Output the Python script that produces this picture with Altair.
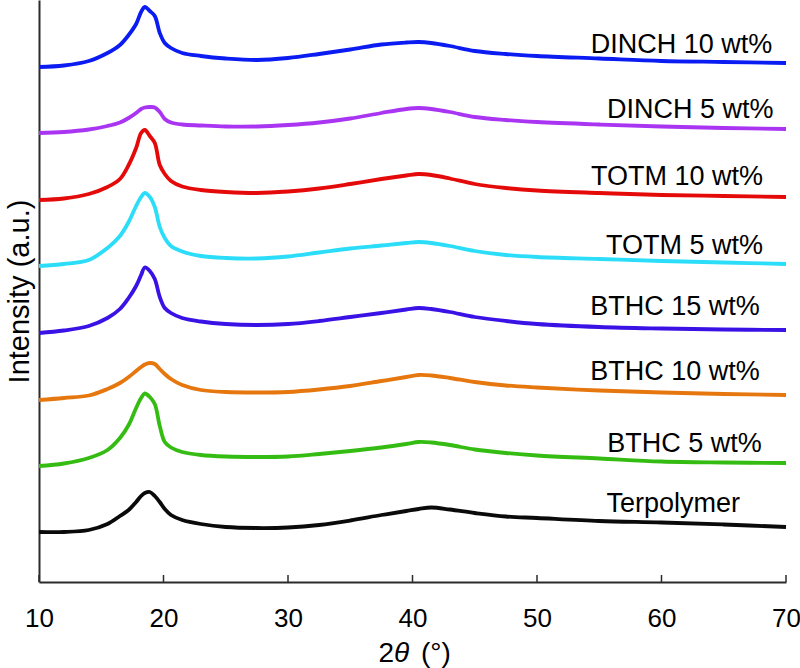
import altair as alt
import pandas as pd

# Diffraction angle grid (2θ, degrees)
two_theta = [10, 12, 14, 15.5, 16.5, 17.2, 17.8, 18.2, 18.5, 18.9, 19.3, 19.7, 20.1,
             20.6, 21.5, 23, 25, 27.5, 30, 32.5, 35, 37.5, 39.5, 40.5, 41.5, 43, 45,
             47.5, 50, 55, 60, 65, 70]

# Stacked intensity traces (a.u., vertically offset)
dinch_10 = [515, 516.5, 521, 529, 537, 547, 558, 570, 575, 571, 566, 549, 539, 534, 529,
            526, 523.5, 522, 524, 528, 532.5, 537.5, 539.5, 540, 539, 536, 531, 528, 526,
            523.5, 521, 520, 519]
dinch_5 = [449, 450, 452.5, 456, 459.5, 464, 469, 473, 474.5, 475, 474.5, 470, 463, 459.5,
           457.5, 456.5, 455.5, 455.5, 457, 459.5, 463.5, 469, 473, 474, 473, 470, 465, 462,
           460, 457.5, 455.5, 454, 453]
totm_10 = [382, 383.5, 388, 395, 403, 417, 434, 449, 452, 446, 439, 417, 408, 401, 395.5,
           392, 390, 389, 390.5, 393.5, 398, 403, 406.5, 408, 407, 403.5, 398, 394, 391.5,
           389, 387, 386, 385]
totm_5 = [316, 318, 322, 334, 346, 360, 376, 385, 389, 385, 375, 355, 344, 336, 330.5,
          326, 324, 323.5, 325.5, 329.5, 333.5, 336.5, 339, 340, 339, 336, 331, 327, 325,
          323, 321, 319.5, 318]
bthc_15 = [249, 251.5, 256, 264, 273, 284, 296, 307, 314.5, 311, 303, 285, 274, 269, 264,
           260.5, 258, 257, 258, 261, 265, 269, 272.5, 274, 273, 270, 265, 261, 258,
           255, 253.5, 252.5, 252]
bthc_10 = [182, 184, 186.5, 193, 199, 205, 211, 215, 217.5, 219, 218, 213, 208, 203, 197,
           192, 190, 189.5, 190, 192.5, 196, 201, 205, 207, 206.5, 204, 200, 196.5, 194.5,
           191.5, 189.5, 188, 187]
bthc_5 = [116, 118.5, 124, 132, 144, 157, 174, 184, 188.5, 185, 178, 156, 140, 134.5, 130,
          127, 125.5, 125, 125.5, 128, 131, 134.5, 138, 140, 139.5, 137, 132.5, 129, 126.5,
          123.5, 120.5, 119.5, 119]
terpolymer = [50, 50, 52, 58, 66, 72, 80, 86, 89, 90, 86, 80, 73, 67, 62, 58, 55, 54, 54.5,
              57, 61.5, 67, 71, 73, 74.5, 72.5, 69, 65.5, 64, 61, 59.5, 57.5, 55]

samples = ["DINCH 10 wt%", "DINCH 5 wt%", "TOTM 10 wt%", "TOTM 5 wt%",
           "BTHC 15 wt%", "BTHC 10 wt%", "BTHC 5 wt%", "Terpolymer"]
traces = [dinch_10, dinch_5, totm_10, totm_5, bthc_15, bthc_10, bthc_5, terpolymer]
colors = ["#0B1CF2", "#A935F2", "#E50A0A", "#2BDDF8",
          "#3B12E6", "#E6770F", "#35BC12", "#0A0A0A"]

# Label anchors (right end of each label, in data units)
label_x = [68.9, 69.0, 68.15, 68.15, 67.9, 67.9, 68.05, 66.3]
label_y = [529, 464, 397, 328.5, 267, 202, 130, 70]

x_ticks = [10, 20, 30, 40, 50, 60, 70]

FONT = "Liberation Sans"
AXIS_COLOR = "#2b2b2b"

rows = []
for name, ys in zip(samples, traces):
    for t, v in zip(two_theta, ys):
        rows.append({"sample": name, "two_theta": t, "intensity": v})
df = pd.DataFrame(rows)

labels_df = pd.DataFrame({"sample": samples, "lx": label_x, "ly": label_y})
ticks_df = pd.DataFrame({"tick": x_ticks})

x_scale = alt.Scale(domain=[10, 70], nice=False, zero=False)
y_scale = alt.Scale(domain=[0, 582], nice=False, zero=False)
color_scale = alt.Scale(domain=samples, range=colors)

lines = alt.Chart(df).mark_line(strokeWidth=3.8, interpolate="catmull-rom").encode(
    x=alt.X("two_theta:Q", scale=x_scale,
            axis=alt.Axis(values=x_ticks, ticks=False, grid=False, title=None,
                          labelFontSize=26, labelFont=FONT, labelColor="#000000",
                          labelPadding=23, labelFlush=False, format="d",
                          domainColor=AXIS_COLOR, domainWidth=2)),
    y=alt.Y("intensity:Q", scale=y_scale,
            axis=alt.Axis(ticks=False, labels=False, grid=False,
                          title="Intensity (a.u.)", titleFont=FONT, titleFontSize=29,
                          titleFontWeight="normal", titleColor="#000000",
                          titleAngle=270, titleX=-11, titleY=291,
                          titleBaseline="alphabetic", titleAlign="center",
                          domainColor=AXIS_COLOR, domainWidth=2)),
    color=alt.Color("sample:N", scale=color_scale, legend=None),
)

# Inward-pointing x ticks
tick_marks = alt.Chart(ticks_df).mark_rule(color=AXIS_COLOR, strokeWidth=1.5).encode(
    x=alt.X("tick:Q", scale=x_scale),
    y=alt.value(575),
    y2=alt.value(582),
)

labels = alt.Chart(labels_df).mark_text(
    align="right", baseline="alphabetic", fontSize=27, font=FONT, color="#000000"
).encode(
    x=alt.X("lx:Q", scale=x_scale),
    y=alt.Y("ly:Q", scale=y_scale),
    text="sample:N",
)

# x-axis title "2θ (°)" with an italic theta
one_row = alt.Data(values=[{"k": 1}])
title_two = alt.Chart(one_row).mark_text(
    text="2", align="right", baseline="alphabetic", fontSize=28, font=FONT, color="#000000"
).encode(x=alt.value(355), y=alt.value(662))
title_theta = alt.Chart(one_row).mark_text(
    text="θ", align="left", baseline="alphabetic", fontSize=28, font=FONT,
    fontStyle="italic", color="#000000"
).encode(x=alt.value(355), y=alt.value(662))
title_unit = alt.Chart(one_row).mark_text(
    text="(°)", align="left", baseline="alphabetic", fontSize=28, font=FONT, color="#000000"
).encode(x=alt.value(382), y=alt.value(662))

chart = alt.layer(lines, tick_marks, labels, title_two, title_theta, title_unit).properties(
    width=747,
    height=582,
    padding={"left": 39, "top": 0, "right": 14, "bottom": 86},
    autosize="none",
    background="white",
).configure_view(stroke=None)

chart.save("out.html", embed_options={"renderer": "svg", "actions": False})
